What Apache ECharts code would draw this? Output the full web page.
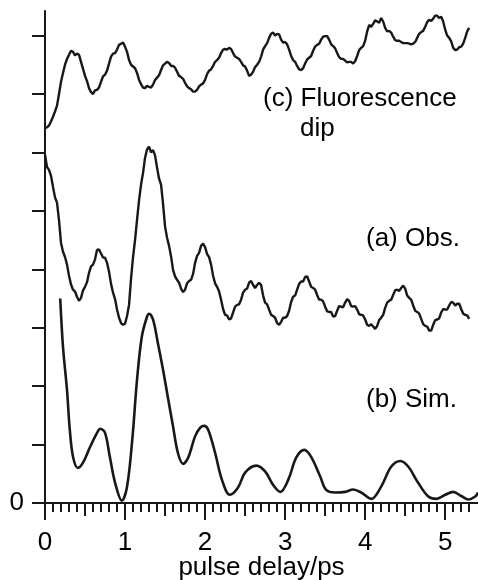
<!DOCTYPE html>
<html>
<head>
<meta charset="utf-8">
<script src="https://cdn.jsdelivr.net/npm/echarts/dist/echarts.min.js"></script>
<style>html,body{margin:0;padding:0;background:#fff;}#chart{width:478px;height:580px;}</style>
</head>
<body>
<div id="chart"></div>
<script>
// Sampling step of the measured traces (ps); "Mid" arrays hold the samples half a step later
const sampleStep = 0.05;

// (c) Fluorescence dip
const fluorY = [6.42,6.46,6.61,6.80,7.21,7.50,7.67,7.72,7.69,7.55,7.31,7.10,7.00,7.07,7.21,7.33,7.52,7.69,7.76,7.86,
  7.81,7.58,7.47,7.36,7.17,7.10,7.12,7.16,7.28,7.41,7.52,7.53,7.48,7.38,7.29,7.19,7.10,7.04,7.07,7.16,
  7.24,7.40,7.48,7.58,7.70,7.77,7.79,7.70,7.62,7.55,7.47,7.31,7.38,7.50,7.64,7.82,7.96,8.05,8.03,7.93,
  7.89,7.76,7.58,7.48,7.41,7.52,7.62,7.74,7.84,7.93,7.99,7.93,7.82,7.70,7.60,7.57,7.55,7.52,7.65,7.79,
  7.91,8.18,8.20,8.24,8.30,8.13,8.08,7.98,7.91,7.89,7.87,7.86,7.86,7.96,8.06,8.15,8.27,8.29,8.34,8.32,
  8.10,7.96,7.79,7.76,7.81,7.96,8.13];
const fluorMid = [6.43,6.53,6.70,7.00,7.36,7.60,7.74,7.66,7.67,7.43,7.22,7.03,7.06,7.11,7.30,7.40,7.64,7.70,7.84,7.88,
  7.72,7.50,7.44,7.24,7.11,7.14,7.11,7.24,7.32,7.49,7.55,7.48,7.45,7.31,7.26,7.13,7.08,7.04,7.13,7.18,
  7.34,7.42,7.55,7.62,7.76,7.76,7.77,7.64,7.60,7.49,7.40,7.33,7.46,7.55,7.76,7.87,8.03,8.00,8.02,7.88,
  7.85,7.65,7.55,7.42,7.44,7.59,7.65,7.81,7.86,7.98,7.99,7.85,7.78,7.63,7.60,7.54,7.55,7.56,7.75,7.82,
  8.07,8.15,8.26,8.22,8.24,8.07,8.05,7.92,7.91,7.87,7.87,7.85,7.89,8.03,8.08,8.23,8.25,8.34,8.30,8.24,
  8.00,7.90,7.75,7.80,7.86,8.07];

// (a) Observed trace
const obsY = [5.96,5.70,5.41,5.14,4.45,4.21,3.89,3.65,3.53,3.51,3.70,3.94,4.08,4.33,4.27,4.20,3.96,3.60,3.31,3.08,
  3.07,3.39,4.21,4.85,5.45,5.91,6.10,6.04,5.74,5.45,4.73,4.40,3.99,3.82,3.67,3.65,3.80,3.92,4.23,4.40,
  4.38,4.21,3.89,3.70,3.48,3.22,3.14,3.26,3.39,3.48,3.65,3.77,3.73,3.73,3.73,3.43,3.31,3.20,3.08,3.10,
  3.17,3.29,3.53,3.65,3.79,3.87,3.79,3.68,3.56,3.48,3.36,3.27,3.19,3.29,3.36,3.43,3.46,3.36,3.31,3.22,
  3.14,3.03,3.02,3.03,3.17,3.34,3.46,3.56,3.65,3.68,3.67,3.51,3.38,3.27,3.15,3.03,2.95,3.05,3.14,3.26,
  3.31,3.38,3.43,3.41,3.32,3.22,3.15];
const obsMid = [5.75,5.60,5.23,4.84,4.30,4.08,3.74,3.62,3.46,3.64,3.78,4.05,4.17,4.34,4.20,4.11,3.75,3.49,3.17,3.05,
  3.20,3.84,4.50,5.18,5.65,6.05,6.00,5.95,5.55,5.12,4.54,4.22,3.88,3.77,3.61,3.76,3.82,4.11,4.28,4.44,
  4.26,4.08,3.76,3.62,3.32,3.21,3.16,3.36,3.40,3.60,3.67,3.80,3.68,3.77,3.55,3.40,3.22,3.17,3.05,3.17,
  3.20,3.44,3.55,3.75,3.79,3.88,3.70,3.65,3.48,3.45,3.28,3.27,3.20,3.37,3.35,3.49,3.37,3.37,3.23,3.21,
  3.05,3.06,2.98,3.13,3.22,3.43,3.48,3.64,3.63,3.72,3.55,3.48,3.29,3.24,3.06,3.02,2.95,3.13,3.16,3.32,
  3.31,3.44,3.38,3.41,3.24,3.21];

// (b) Simulated trace
const simX = [0.19,0.225,0.275,0.31,0.35,0.41,0.475,0.56,0.65,0.69,0.75,0.81,0.875,0.96,1.025,1.09,1.15,1.21,1.275,1.30,
  1.35,1.41,1.475,1.54,1.60,1.66,1.725,1.79,1.875,1.94,1.99,2.04,2.125,2.21,2.31,2.41,2.5,2.64,2.75,2.85,
  2.94,3.04,3.14,3.24,3.325,3.44,3.51,3.625,3.75,3.85,3.95,4.075,4.2,4.325,4.44,4.54,4.66,4.79,4.89,5.0,
  5.1,5.2,5.29,5.375,5.41];
const simY = [3.50,2.67,1.93,1.25,0.79,0.60,0.69,0.95,1.20,1.27,1.20,0.79,0.35,0.04,0.28,1.08,2.11,2.85,3.19,3.24,
  3.14,2.74,2.28,1.77,1.31,0.86,0.67,0.78,1.14,1.29,1.32,1.25,0.86,0.40,0.14,0.26,0.52,0.64,0.54,0.31,
  0.19,0.40,0.78,0.91,0.79,0.45,0.23,0.18,0.19,0.23,0.18,0.07,0.28,0.62,0.72,0.62,0.35,0.11,0.07,0.14,
  0.19,0.12,0.06,0.11,0.18];

const xMajor = [0,1,2,3,4,5];
const xHalf = [0.5,1.5,2.5,3.5,4.5];
const xMinor = [];
for (let k = 1; k < 54; k++) { if (k % 5 !== 0) xMinor.push(+(k * 0.1).toFixed(1)); }
const yTicks = [0,1,2,3,4,5,6,7,8];
const yLabels = [0];

function interleave(onGrid, mid) {
  const out = [];
  onGrid.forEach((v, i) => {
    out.push([+(i * sampleStep).toFixed(3), v]);
    if (i < mid.length) out.push([+((i + 0.5) * sampleStep).toFixed(3), mid[i]]);
  });
  return out;
}
const fluorData = interleave(fluorY, fluorMid);
const obsData = interleave(obsY, obsMid);
const simData = simX.map((x, i) => [x, simY[i]]);

const FONT = 'Liberation Sans, Arial, sans-serif';
const INK = '#1a1718';
const FS = 26;

function tickAxis(values, len) {
  return {
    type: 'value', min: 0, max: 5.41, position: 'bottom',
    axisLine: { show: false },
    axisTick: { show: true, customValues: values, length: len, inside: false,
      lineStyle: { color: INK, width: 2 } },
    axisLabel: { show: false },
    splitLine: { show: false }
  };
}

const chart = echarts.init(document.getElementById('chart'), null, { renderer: 'canvas' });
chart.setOption({
  animation: false,
  backgroundColor: '#ffffff',
  grid: { left: 45, right: 0, top: 11, bottom: 77, containLabel: false, outerBoundsMode: 'none' },
  xAxis: [
    {
      type: 'value', min: 0, max: 5.41, position: 'bottom',
      axisLine: { show: true, lineStyle: { color: INK, width: 2 } },
      axisTick: { show: true, customValues: xMajor, length: 17, lineStyle: { color: INK, width: 2 } },
      axisLabel: { show: true, customValues: xMajor, fontSize: FS, fontFamily: FONT, color: '#000', margin: 27 },
      splitLine: { show: false },
      name: 'pulse delay/ps', nameLocation: 'middle', nameGap: 52, nameMoveOverlap: false,
      nameTextStyle: { fontSize: FS, fontFamily: FONT, color: '#000' }
    },
    tickAxis(xHalf, 13),
    tickAxis(xMinor, 9)
  ],
  yAxis: {
    type: 'value', min: 0, max: 8.42,
    axisLine: { show: true, lineStyle: { color: INK, width: 2 } },
    axisTick: { show: true, customValues: yTicks, length: 13, lineStyle: { color: INK, width: 2 } },
    axisLabel: { show: true, customValues: yLabels, fontSize: FS, fontFamily: FONT, color: '#000', margin: 21 },
    splitLine: { show: false }
  },
  graphic: [
    { type: 'text', x: 263, y: 99, style: { text: '(c) Fluorescence', font: FS + 'px ' + FONT, fill: '#000', verticalAlign: 'middle', align: 'left' } },
    { type: 'text', x: 300, y: 129, style: { text: 'dip', font: FS + 'px ' + FONT, fill: '#000', verticalAlign: 'middle', align: 'left' } },
    { type: 'text', x: 366, y: 239, style: { text: '(a) Obs.', font: FS + 'px ' + FONT, fill: '#000', verticalAlign: 'middle', align: 'left' } },
    { type: 'text', x: 366, y: 400, style: { text: '(b) Sim.', font: FS + 'px ' + FONT, fill: '#000', verticalAlign: 'middle', align: 'left' } }
  ],
  series: [
    { name: 'Fluorescence dip', type: 'line', data: fluorData, showSymbol: false, smooth: false,
      lineStyle: { color: INK, width: 2.4 } },
    { name: 'Obs.', type: 'line', data: obsData, showSymbol: false, smooth: false,
      lineStyle: { color: INK, width: 2.4 } },
    { name: 'Sim.', type: 'line', data: simData, showSymbol: false, smooth: 0.35,
      lineStyle: { color: INK, width: 2.6 } }
  ]
});
</script>
</body>
</html>
